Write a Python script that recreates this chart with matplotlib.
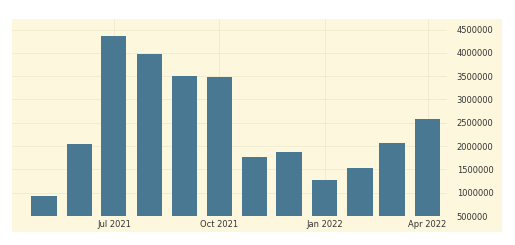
import numpy as np
import pandas as pd
import matplotlib
matplotlib.use("Agg")
import matplotlib.pyplot as plt
import matplotlib.dates as mdates

months = pd.date_range("2021-05-01", "2022-04-01", freq="MS")
values = [930000, 2048000, 4371000, 3984000, 3511000, 3474000,
          1762000, 1883000, 1274000, 1539000, 2077000, 2579000]
yticks = [500000, 1000000, 1500000, 2000000, 2500000,
          3000000, 3500000, 4000000, 4500000]
xticks = pd.to_datetime(["2021-07-01", "2021-10-01", "2022-01-01", "2022-04-01"])

W, H = 515, 245
fig = plt.figure(figsize=(W / 100, H / 100), dpi=100)
fig.patch.set_facecolor("white")

# cream panel behind everything
bg = fig.add_axes([12 / W, 1 - 232 / H, (502 - 12) / W, (232 - 19) / H])
bg.set_facecolor("#fdf8dd")
bg.set_xticks([])
bg.set_yticks([])
for s in bg.spines.values():
    s.set_visible(False)

ax = fig.add_axes([12 / W, 1 - 216 / H, (447 - 12) / W, (216 - 19) / H])
ax.set_facecolor("none")

bottom = 500000
ax.bar(months, np.array(values) - bottom, bottom=bottom, width=22,
       color="#497893", zorder=3)

ax.set_xlim(pd.Timestamp("2021-04-03"), pd.Timestamp("2022-04-18"))
ax.set_ylim(500000, 4727000)

ax.yaxis.tick_right()
ax.set_yticks(yticks)
ax.set_yticklabels([str(v) for v in yticks])
ax.set_xticks(xticks)
ax.xaxis.set_major_formatter(mdates.DateFormatter("%b %Y"))

ax.tick_params(axis="both", length=0, labelsize=6, colors="#333333")
ax.tick_params(axis="y", pad=7)
ax.tick_params(axis="x", pad=3)

ax.grid(True, color="#efe9cf", linewidth=0.6, zorder=0)
for s in ax.spines.values():
    s.set_visible(False)

fig.savefig("out.png", dpi=100)
